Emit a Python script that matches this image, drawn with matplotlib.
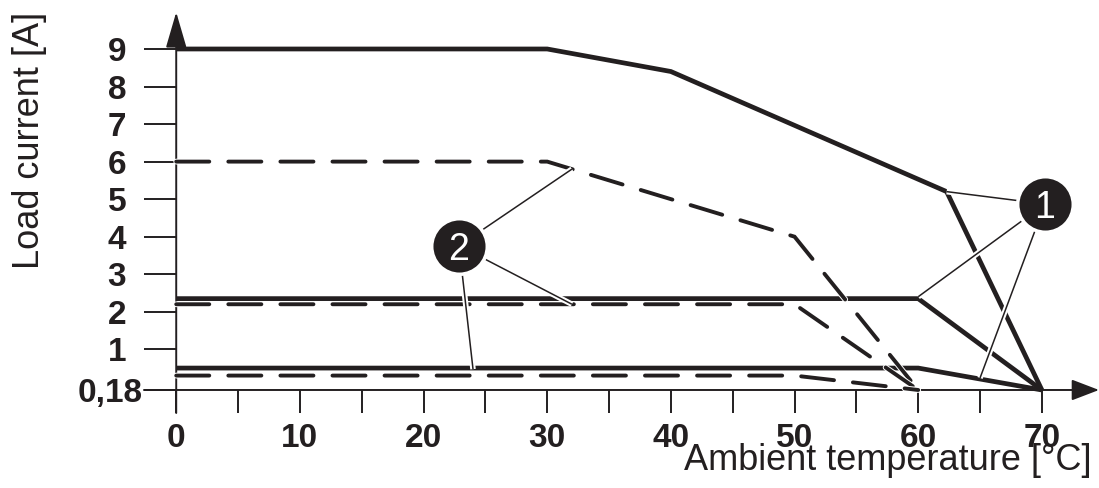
import numpy as np
import matplotlib
matplotlib.use("Agg")
import matplotlib.pyplot as plt
import matplotlib.patheffects as pe

plt.rcParams['font.family'] = ['Liberation Sans', 'DejaVu Sans']
plt.rcParams['lines.scale_dashes'] = False

# ---------------- data ----------------
temp_9A = [0, 30, 40, 62.3, 70]
load_9A = [9, 9, 8.4, 5.2, 0.18]
temp_6A = [0, 30, 50, 60]
load_6A = [6, 6, 4.0, 0.18]
temp_24 = [0, 60, 70]
load_24 = [2.35, 2.35, 0.18]
temp_22 = [0, 50, 60]
load_22 = [2.2, 2.2, 0.18]
temp_05 = [0, 60, 70]
load_05 = [0.5, 0.5, 0.18]
temp_03 = [0, 50, 60]
load_03 = [0.3, 0.3, 0.18]

x_ticks = list(range(0, 75, 5))
x_labels = ['0', '10', '20', '30', '40', '50', '60', '70']
y_ticks = [0.18, 1, 2, 3, 4, 5, 6, 7, 8, 9]
y_labels = ['0,18', '1', '2', '3', '4', '5', '6', '7', '8', '9']

# callouts: label, circle centre, leader targets
callout_1 = dict(label='1', centre=(70.25, 4.87),
                 targets=[(62.3, 5.2), (60, 2.4), (65, 0.28)])
callout_2 = dict(label='2', centre=(22.87, 3.76),
                 targets=[(32, 5.8), (32, 2.2), (24, 0.47)])

COL = '#231f20'
TICK_FS = 24

# schematic y axis: the "0,18" baseline is drawn a little below the linear scale
P0 = -0.084
def fwd(y):
    y = np.asarray(y, dtype=float)
    return np.where(y >= 0.3, y, P0 + (y - 0.18) * (0.3 - P0) / 0.12)
def inv(p):
    p = np.asarray(p, dtype=float)
    return np.where(p >= 0.3, p, 0.18 + (p - P0) * 0.12 / (0.3 - P0))

fig = plt.figure(figsize=(10.99, 4.88), dpi=100)
ax = fig.add_axes([0, 0, 1, 1])
ax.set_yscale('function', functions=(fwd, inv))
ax.set_xlim(-14.25, 74.62)
ax.set_ylim(float(inv(-2.695)), float(inv(10.305)))
for s in ax.spines.values():
    s.set_visible(False)
ax.spines['left'].set_position(('data', 0))
ax.spines['bottom'].set_position(('data', 0.18))

# ticks
ax.set_xticks(x_ticks)
ax.set_xticklabels([str(t) if t % 10 == 0 else '' for t in x_ticks])
ax.set_yticks(y_ticks)
ax.set_yticklabels([''] + y_labels[1:])
ax.tick_params(axis='x', direction='out', length=16.6, width=1.4, color=COL,
               pad=7, labelsize=TICK_FS, labelcolor=COL)
ax.tick_params(axis='y', direction='out', length=23, width=1.4, color=COL,
               pad=13, labelsize=TICK_FS, labelcolor=COL)
for lab in ax.get_xticklabels() + ax.get_yticklabels():
    lab.set_fontweight('bold')
ax.annotate(y_labels[0], xy=(0, 0.18), xytext=(-34, 0), textcoords='offset pixels',
            ha='right', va='center_baseline', fontsize=TICK_FS, fontweight='bold', color=COL)

# axis lines with arrows
ax.annotate('', xy=(0, 0.975), xytext=(0, 0.1537), xycoords=ax.get_xaxis_transform(),
            arrowprops=dict(arrowstyle='-|>,head_length=22.3,head_width=6.5',
                            mutation_scale=1, lw=1.4, color=COL, shrinkA=0, shrinkB=0))
ax.annotate('', xy=(1.0, 0.18), xytext=(0.131, 0.18), xycoords=ax.get_yaxis_transform(),
            arrowprops=dict(arrowstyle='-|>,head_length=17,head_width=6.5',
                            mutation_scale=1, lw=1.4, color=COL, shrinkA=0, shrinkB=0))

# curves
solid_kw = dict(color=COL, lw=3.4, solid_joinstyle='miter', solid_capstyle='butt', zorder=3)
dash_kw = dict(color=COL, lw=2.8, dashes=(23.8, 13.7), dash_capstyle='round',
               dash_joinstyle='miter', zorder=4,
               path_effects=[pe.Stroke(linewidth=4.2, foreground='white'), pe.Normal()])
ax.plot(temp_9A, load_9A, **solid_kw)
ax.plot(temp_24, load_24, **solid_kw)
ax.plot(temp_05, load_05, **solid_kw)
ax.plot(temp_6A, load_6A, **dash_kw)
ax.plot(temp_22, load_22, **dash_kw)
ax.plot(temp_03, load_03, **dash_kw)

# callouts
for c in (callout_1, callout_2):
    cx, cy = c['centre']
    for tx, ty in c['targets']:
        ax.plot([cx, tx], [cy, ty], color=COL, lw=1.1, zorder=5, solid_capstyle='butt',
                path_effects=[pe.Stroke(linewidth=4.0, foreground='white'), pe.Normal()])
    ax.plot([cx], [cy], 'o', ms=40, mfc=COL, mec='white', mew=2.5, zorder=6)
    ax.text(cx, cy, c['label'], color='white', fontsize=27, ha='center',
            va='center_baseline', zorder=7)

# axis titles
fig.text(12 / 1099, 1 - 12 / 488, 'Load current [A]', rotation=90, ha='left', va='top',
         fontsize=26, color=COL)
fig.text(1092 / 1099, 1 - 470 / 488, 'Ambient temperature [°C]', ha='right',
         va='baseline', fontsize=26, color=COL)

fig.savefig('out.png', dpi=100)
